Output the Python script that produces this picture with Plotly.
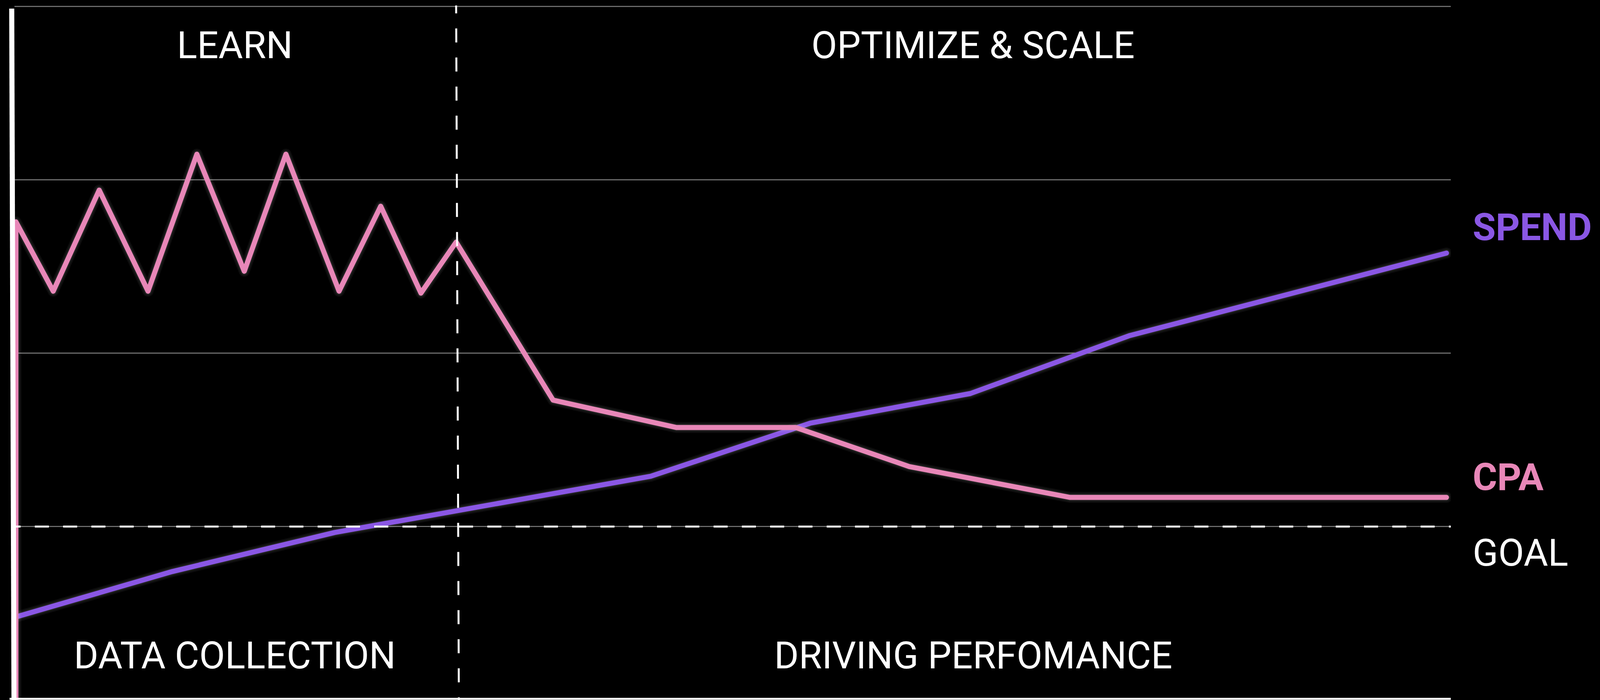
import plotly.graph_objects as go

# ---- data ----
x_cpa = [0.1, 0.1, 2.7, 5.9, 9.3, 12.7, 16.0, 18.9, 22.6, 25.5, 28.3, 30.75,
         37.5, 46.1, 54.4, 62.3, 73.5, 99.7]
cpa = [0.0, 2.757, 2.357, 2.940, 2.357, 3.147, 2.472, 3.147, 2.357, 2.847, 2.346,
       2.640, 1.729, 1.571, 1.571, 1.346, 1.168, 1.168]

x_spend = [0.1, 11.0, 22.3, 44.3, 55.4, 66.55, 77.6, 99.7]
spend = [0.479, 0.741, 0.966, 1.290, 1.596, 1.767, 2.100, 2.577]

goal_value = 1.0
phase_split = 30.75
grid_values = [1, 2, 3, 4]

phase_labels = ["LEARN", "OPTIMIZE & SCALE"]
stage_labels = ["DATA COLLECTION", "DRIVING PERFOMANCE"]
series_labels = ["SPEND", "CPA", "GOAL"]

# ---- style ----
PINK = "#E887B8"
PURPLE = "#8A57E4"
GRID = "#6b6b6b"
FONT = "Roboto"
REF_W = 4219
W, H = 4096, 1793          # browser viewport width is capped at 4096 px
S = W / REF_W
L = round(38 * S)
R = W - round(3826 * S)
T, B = 14, 0
FS = 96

fig = go.Figure()

def add_series(xs, ys, color):
    for w, a in ((28, 0.05), (20, 0.08)):
        fig.add_trace(go.Scatter(x=xs, y=ys, mode="lines",
                                 line=dict(color=f"rgba(255,255,255,{a})", width=w),
                                 hoverinfo="skip", showlegend=False))
    fig.add_trace(go.Scatter(x=xs, y=ys, mode="lines",
                             line=dict(color=color, width=13),
                             hoverinfo="skip", showlegend=False))

add_series(x_spend, spend, PURPLE)
add_series(x_cpa, cpa, PINK)

# goal dashed line
fig.add_shape(type="line", xref="x", yref="y", x0=-0.55, x1=100, y0=goal_value, y1=goal_value,
              line=dict(color="white", width=5, dash=f"{37*S:.1f}px,{37.6*S:.1f}px"),
              layer="above")
# phase separator
fig.add_shape(type="line", xref="x", yref="y", x0=phase_split, x1=phase_split + 0.19,
              y0=4.04, y1=0, line=dict(color="white", width=5, dash="36px,38.5px"),
              layer="above")
# left white bar and bottom line
fig.add_shape(type="line", xref="paper", yref="paper", x0=-0.0019, x1=-0.0003,
              y0=0.9955, y1=-0.01, line=dict(color="white", width=13), layer="above")
fig.add_shape(type="line", xref="paper", yref="paper", x0=-0.0034, x1=1.0,
              y0=0.0017, y1=0.0017, line=dict(color="white", width=5), layer="above")

label_font = dict(family=FONT, size=FS, color="white")
for txt, x in zip(phase_labels, [15.34, 66.74]):
    fig.add_annotation(x=x, y=3.775, text=txt, showarrow=False, xanchor="center",
                       yanchor="middle", font=label_font, borderpad=0)
for txt, x in zip(stage_labels, [15.34, 66.74]):
    fig.add_annotation(x=x, y=0.256, text=txt, showarrow=False, xanchor="center",
                       yanchor="middle", font=label_font, borderpad=0)

xlab = (3883 - 38) / (3826 - 38)
for txt, y, col, wt in zip(series_labels, [2.726, 1.285, 0.849],
                           [PURPLE, PINK, "white"], [700, 700, 400]):
    fig.add_annotation(xref="paper", x=xlab, y=y, text=txt, showarrow=False, xanchor="left",
                       yanchor="middle", borderpad=0,
                       font=dict(family=FONT, size=FS, color=col, weight=wt))

fig.update_layout(
    width=W, height=H,
    margin=dict(l=L, r=R, t=T, b=B, pad=0),
    paper_bgcolor="black", plot_bgcolor="black",
    showlegend=False,
    xaxis=dict(range=[0, 100], showgrid=False, zeroline=False, showline=False,
               showticklabels=False, ticks=""),
    yaxis=dict(range=[0, 4.0045], tickvals=grid_values, showgrid=True, gridcolor=GRID,
               gridwidth=2.5, zeroline=False, showline=False, showticklabels=False,
               ticks=""),
)

post = ("document.body.style.margin='0';document.body.style.overflow='hidden';"
        "document.querySelectorAll('.scatterlayer path.js-line').forEach(function(p){"
        "p.style.strokeLinejoin='round';p.style.strokeLinecap='round';});")

fig.write_html("out.html", config={"displayModeBar": False}, post_script=post)
